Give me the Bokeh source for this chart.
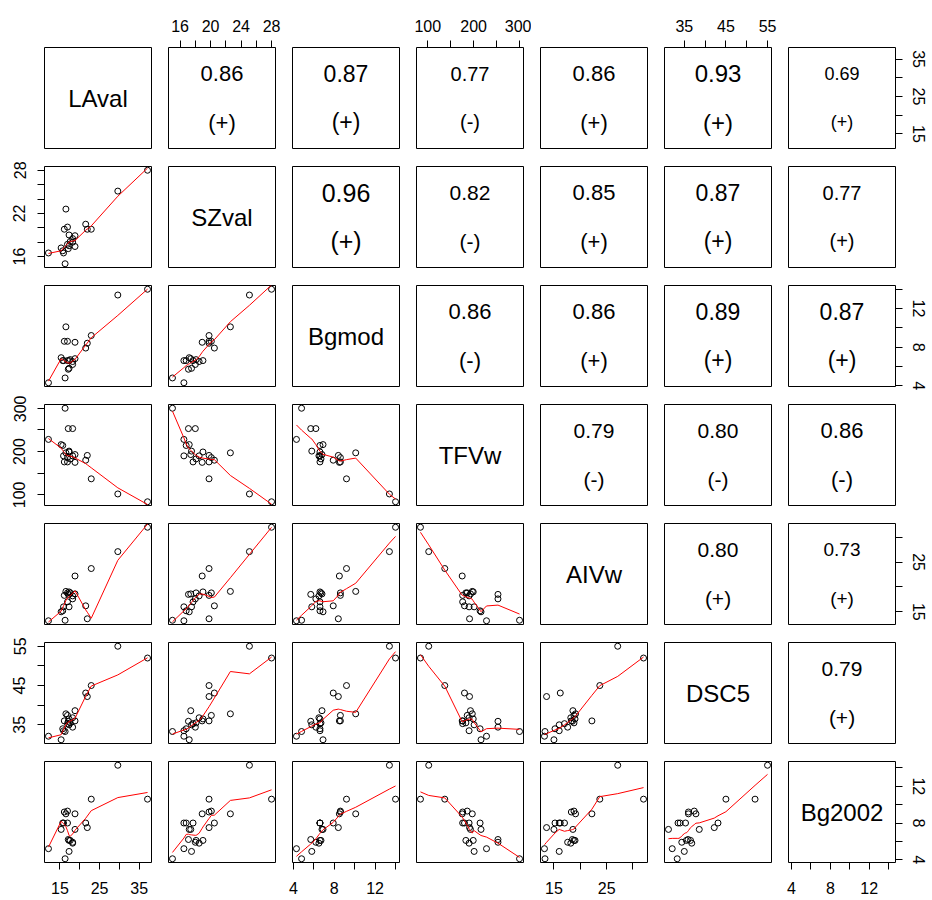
import numpy as np
from bokeh.plotting import figure
from bokeh.layouts import gridplot
from bokeh.models import Range1d, LinearAxis, FixedTicker
from bokeh.embed import file_html
from bokeh.resources import INLINE
from bokeh.core.properties import value

# ---------------- data ----------------
var_names = ["LAval", "SZval", "Bgmod", "TFVw", "AIVw", "DSC5", "Bg2002"]

LAval  = [37.1, 29.6, 12.1, 16.3, 22.9, 16.5, 18.8, 21.5, 21.9, 18.8, 17.1,
          18.2, 15.3, 15.7, 15.9, 17.3, 16.9, 16.1, 17.3, 17.6, 18.2, 16.9]
SZval  = [28.0, 25.1, 16.5, 15.0, 19.8, 22.6, 18.9, 20.5, 19.8, 17.4, 17.1,
          18.0, 17.2, 16.8, 16.5, 17.5, 20.1, 19.8, 19.0, 18.1, 18.5, 17.7]
Bgmod  = [14.0, 13.4, 4.3, 4.8, 9.2, 10.1, 8.5, 7.9, 8.4, 6.8, 5.7,
          6.2, 6.9, 6.6, 6.6, 5.8, 8.6, 8.6, 6.6, 6.7, 6.5, 6.6]
TFVw   = [84, 102, 228, 300, 137, 197, 175, 180, 191, 193, 253,
          253, 216, 214, 190, 201, 186, 176, 199, 183, 190, 176]
AIVw   = [32.0, 27.1, 13.2, 13.3, 23.7, 19.1, 22.2, 16.2, 13.6, 18.6, 18.5,
          17.6, 15.0, 15.2, 16.0, 16.0, 18.8, 18.3, 19.0, 18.8, 18.2, 17.0]
DSC5   = [52.0, 55.0, 32.1, 33.3, 45.0, 37.8, 36.0, 43.1, 42.2, 38.6, 35.9,
          34.4, 31.2, 34.0, 33.5, 35.0, 37.4, 36.0, 36.5, 35.5, 36.8, 35.3]
Bg2002 = [10.6, 14.3, 5.2, 4.1, 10.6, 9.0, 9.0, 8.0, 7.5, 7.3, 6.2,
          5.9, 7.3, 8.0, 8.0, 4.9, 9.3, 9.2, 6.1, 6.1, 5.8, 8.0]

# upper-panel correlation texts (row by row, upper triangle)
cor_values = [0.86, 0.87, 0.77, 0.86, 0.93, 0.69,
              0.96, 0.82, 0.85, 0.87, 0.77,
              0.86, 0.86, 0.89, 0.87,
              0.79, 0.80, 0.86,
              0.80, 0.73,
              0.79]
cor_signs = ["+", "+", "-", "+", "+", "+",
             "+", "-", "+", "+", "+",
             "-", "+", "+", "+",
             "-", "-", "-",
             "+", "+",
             "+"]

# axis ticks: all tick marks, and the ones that carry a label
tick_all = {
    "LAval": [15, 20, 25, 30, 35],
    "SZval": [16, 18, 20, 22, 24, 26, 28],
    "Bgmod": [4, 6, 8, 10, 12, 14],
    "TFVw": [100, 150, 200, 250, 300],
    "AIVw": [15, 20, 25, 30],
    "DSC5": [35, 40, 45, 50, 55],
    "Bg2002": [4, 6, 8, 10, 12, 14],
}
tick_lab_h = {  # labels on horizontal (top/bottom) axes
    "LAval": [15, 25, 35], "SZval": [16, 20, 24, 28], "Bgmod": [4, 8, 12],
    "TFVw": [100, 200, 300], "AIVw": [15, 25], "DSC5": [35, 45, 55],
    "Bg2002": [4, 8, 12],
}
tick_lab_v = {  # labels on vertical (left/right) axes
    "LAval": [15, 25, 35], "SZval": [16, 22, 28], "Bgmod": [4, 8, 12],
    "TFVw": [100, 200, 300], "AIVw": [15, 25], "DSC5": [35, 45, 55],
    "Bg2002": [4, 8, 12],
}

data = [LAval, SZval, Bgmod, TFVw, AIVw, DSC5, Bg2002]
NV = len(var_names)


# ---------------- R-style lowess (f = 2/3, iter = 3) ----------------
def _lowest(x, y, xs, nleft, nright, rw):
    n = len(x)
    rng = x[-1] - x[0]
    h = max(xs - x[nleft], x[nright] - xs)
    h9, h1 = 0.999 * h, 0.001 * h
    w = np.zeros(n)
    a = 0.0
    j = nleft
    while j < n:
        r = abs(x[j] - xs)
        if r <= h9:
            w[j] = 1.0 if r <= h1 else (1 - (r / h) ** 3) ** 3
            w[j] *= rw[j]
            a += w[j]
        elif x[j] > xs:
            break
        j += 1
    nrt = j - 1
    if a <= 0:
        return 0.0, False
    sl = slice(nleft, nrt + 1)
    w[sl] /= a
    if h > 0:
        aa = np.sum(w[sl] * x[sl])
        b = xs - aa
        c = np.sum(w[sl] * (x[sl] - aa) ** 2)
        if np.sqrt(c) > 0.001 * rng:
            b /= c
            w[sl] *= (b * (x[sl] - aa) + 1)
    return float(np.sum(w[sl] * y[sl])), True


def lowess(x, y, f=2 / 3, it=3):
    x = np.asarray(x, float)
    y = np.asarray(y, float)
    o = np.argsort(x, kind="mergesort")
    x, y = x[o], y[o]
    n = len(x)
    ns = max(min(int(f * n + 1e-7), n), 2)
    delta = 0.01 * (x[-1] - x[0])
    rw = np.ones(n)
    ys = np.zeros(n)
    for itr in range(it + 1):
        nleft, nright, last, i = 0, ns - 1, -1, 0
        while True:
            if nright < n - 1:
                d1 = x[i] - x[nleft]
                d2 = x[nright + 1] - x[i]
                if d1 > d2:
                    nleft += 1
                    nright += 1
                    continue
            val, ok = _lowest(x, y, x[i], nleft, nright, rw)
            ys[i] = val if ok else y[i]
            if last < i - 1:
                denom = x[i] - x[last]
                for j in range(last + 1, i):
                    alpha = (x[j] - x[last]) / denom
                    ys[j] = alpha * ys[i] + (1 - alpha) * ys[last]
            last = i
            cut = x[last] + delta
            i = last + 1
            while i < n:
                if x[i] > cut:
                    break
                if x[i] == x[last]:
                    ys[i] = ys[last]
                    last = i
                i += 1
            i = max(last + 1, i - 1)
            if last >= n - 1:
                break
        res = y - ys
        if itr >= it:
            break
        cmad = 6 * np.median(np.abs(res))
        if cmad < 1e-7 * np.mean(np.abs(y)):
            break
        r = np.abs(res)
        rw = np.where(r <= 0.001 * cmad, 1.0,
                      np.where(r > 0.999 * cmad, 0.0, (1 - (r / cmad) ** 2) ** 2))
    return x, ys


# ---------------- layout ----------------
FW, FH = 107, 101
FONT = "Liberation Sans"
TICK_FS = "16px"


def var_range(k):
    lo, hi = min(data[k]), max(data[k])
    pad = 0.04 * (hi - lo)
    return lo - pad, hi + pad


ranges = [var_range(k) for k in range(NV)]


def make_axis(k, horizontal, standoff):
    name = var_names[k]
    labelled = tick_lab_h[name] if horizontal else tick_lab_v[name]
    others = [t for t in tick_all[name] if t not in labelled]
    ax = LinearAxis(ticker=FixedTicker(ticks=labelled, minor_ticks=others))
    ax.axis_line_color = None
    ax.major_tick_line_color = "black"
    ax.minor_tick_line_color = "black"
    ax.major_tick_out = 7
    ax.major_tick_in = 0
    ax.minor_tick_out = 7
    ax.minor_tick_in = 0
    ax.major_label_text_font = FONT
    ax.major_label_text_font_size = TICK_FS
    ax.major_label_text_color = "black"
    ax.major_label_standoff = standoff
    if not horizontal:
        ax.major_label_orientation = "vertical"
    return ax


rows = []
ci = 0
cor_pos = {}
for i in range(NV):
    for j in range(i + 1, NV):
        cor_pos[(i, j)] = ci
        ci += 1

for i in range(NV):
    row = []
    for j in range(NV):
        xr = Range1d(*ranges[j])
        yr = Range1d(*ranges[i])
        p = figure(frame_width=FW, frame_height=FH, x_range=xr, y_range=yr,
                   output_backend="svg", toolbar_location=None,
                   x_axis_location=None, y_axis_location=None,
                   min_border_left=44 if j == 0 else 9,
                   min_border_right=36 if j == NV - 1 else 8,
                   min_border_top=47 if i == 0 else 9,
                   min_border_bottom=36 if i == NV - 1 else 9,
                   outline_line_color="black", outline_line_width=1,
                   background_fill_color="white", border_fill_color="white")
        p.grid.visible = False
        xlo, xhi = ranges[j]
        ylo, yhi = ranges[i]
        xc = (xlo + xhi) / 2
        if i == j:
            p.text(x=[xc], y=[(ylo + yhi) / 2], text=[var_names[i]],
                   text_font=value(FONT), text_font_size=value("24px"),
                   text_align="center", text_baseline="middle", text_color="black")
        elif i < j:
            k = cor_pos[(i, j)]
            r = cor_values[k]
            fs = "%dpx" % round(26 * r)
            p.text(x=[xc, xc], y=[ylo + 0.74 * (yhi - ylo), ylo + 0.26 * (yhi - ylo)],
                   text=["%.2f" % r, "(%s)" % cor_signs[k]],
                   text_font=value(FONT), text_font_size=value(fs),
                   text_align="center", text_baseline="middle", text_color="black")
        else:
            xs, ys = data[j], data[i]
            p.scatter(xs, ys, marker="circle", size=6, fill_color=None,
                      line_color="black", line_width=1)
            lx, ly = lowess(xs, ys)
            p.line(lx, ly, line_color="red", line_width=1)
        # axes on the outside of the matrix, alternating like R's pairs()
        if i == 0 and j % 2 == 1:
            p.add_layout(make_axis(j, True, 9), "above")
        if i == NV - 1 and j % 2 == 0:
            p.add_layout(make_axis(j, True, 12), "below")
        if j == 0 and i % 2 == 1:
            p.add_layout(make_axis(i, False, 12), "left")
        if j == NV - 1 and i % 2 == 0:
            p.add_layout(make_axis(i, False, 10), "right")
        row.append(p)
    rows.append(row)

grid = gridplot(rows, toolbar_location=None)
open("out.html", "w").write(file_html(grid, INLINE))
